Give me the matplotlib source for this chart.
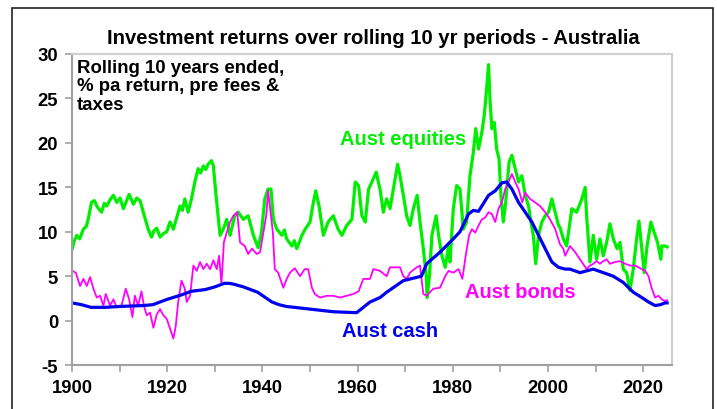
import matplotlib
matplotlib.use("Agg")
import matplotlib.pyplot as plt
from matplotlib.patches import Rectangle
from matplotlib.ticker import MultipleLocator, FuncFormatter

plt.rcParams['font.family'] = ['Liberation Sans', 'DejaVu Sans']
plt.rcParams['font.weight'] = 'bold'
plt.rcParams['axes.unicode_minus'] = False

# Rolling 10 yr returns, % pa
eq_years = [1900.0, 1900.5, 1901.0, 1901.6, 1902.4, 1903.0, 1903.4, 1904.1, 1904.7, 1905.3,
            1906.2, 1906.8, 1907.3, 1908.0, 1908.7, 1909.4, 1910.1, 1910.8, 1911.4, 1912.0,
            1912.9, 1913.6, 1914.3, 1915.0, 1915.5, 1916.0, 1916.7, 1917.2, 1917.8, 1918.5,
            1919.2, 1919.9, 1920.6, 1921.3, 1922.0, 1922.7, 1923.2, 1923.7, 1924.4, 1925.1,
            1925.8, 1926.5, 1927.0, 1927.6, 1928.1, 1928.6, 1929.3, 1929.7, 1930.2, 1930.7,
            1931.1, 1931.8, 1932.5, 1933.2, 1934.2, 1934.9, 1936.0, 1937.0, 1938.1, 1939.1,
            1939.8, 1940.5, 1941.2, 1941.8, 1942.3, 1943.0, 1944.1, 1944.6, 1945.1, 1946.2,
            1946.7, 1947.2, 1948.3, 1949.0, 1950.0, 1950.7, 1951.2, 1951.9, 1952.8, 1953.8,
            1954.9, 1955.9, 1956.7, 1957.7, 1958.8, 1959.5, 1960.2, 1960.9, 1961.6, 1962.3,
            1963.0, 1963.9, 1964.7, 1965.4, 1966.1, 1966.8, 1967.5, 1968.4, 1968.9, 1969.6,
            1970.3, 1971.0, 1971.7, 1972.5, 1973.1, 1973.8, 1974.4, 1974.6, 1975.1, 1975.6,
            1976.5, 1977.0, 1977.7, 1978.4, 1979.1, 1979.4, 1980.1, 1980.8, 1981.5, 1982.2,
            1982.9, 1983.6, 1984.3, 1984.8, 1985.4, 1986.1, 1986.6, 1987.1, 1987.5, 1987.8,
            1988.2, 1988.7, 1989.2, 1989.7, 1990.1, 1990.6, 1991.1, 1991.8, 1992.4, 1993.1,
            1993.8, 1994.5, 1995.2, 1995.9, 1996.4, 1996.9, 1997.4, 1998.0, 1998.7, 1999.4,
            2000.1, 2000.8, 2001.5, 2002.2, 2002.5, 2003.2, 2003.9, 2005.0, 2006.0, 2007.1,
            2007.8, 2008.1, 2008.8, 2009.5, 2010.2, 2010.9, 2011.6, 2012.3, 2013.0, 2013.7,
            2014.5, 2015.1, 2015.8, 2016.5, 2017.2, 2017.9, 2018.6, 2019.1, 2019.7, 2020.2,
            2020.8, 2021.6, 2022.3, 2023.0, 2023.7, 2023.9, 2024.6, 2025.0]
equities = [8.0, 9.0, 9.6, 9.2, 10.3, 10.6, 11.4, 13.3, 13.5, 12.8,
            12.2, 13.2, 12.9, 13.6, 14.1, 13.3, 13.8, 12.6, 13.4, 14.2,
            13.1, 13.8, 13.5, 12.2, 11.3, 10.3, 9.4, 10.1, 10.4, 9.4,
            9.8, 10.0, 11.1, 10.3, 11.6, 12.9, 12.4, 13.7, 12.2, 13.7,
            15.6, 17.1, 16.6, 17.4, 17.0, 17.6, 18.0, 17.4, 14.4, 11.8,
            9.6, 10.3, 11.4, 9.6, 11.8, 12.2, 11.4, 11.8, 9.6, 8.2,
            9.9, 13.7, 14.8, 14.8, 11.4, 10.3, 9.6, 10.2, 9.2, 8.4,
            9.0, 8.1, 9.6, 10.3, 11.1, 13.3, 14.6, 12.9, 9.6, 11.1,
            11.8, 10.3, 9.6, 10.7, 11.4, 15.6, 15.2, 11.8, 11.1, 14.8,
            15.6, 16.7, 14.8, 12.2, 13.7, 12.6, 14.8, 17.6, 16.3, 14.1,
            11.8, 10.7, 12.6, 14.1, 11.1, 8.1, 5.1, 2.6, 5.1, 9.6,
            11.8, 9.6, 7.3, 6.0, 8.4, 6.6, 12.6, 15.2, 14.8, 10.3,
            11.1, 16.3, 18.9, 21.6, 19.3, 21.2, 23.1, 26.1, 28.8, 24.9,
            21.6, 22.3, 19.3, 18.2, 14.1, 11.1, 13.3, 17.8, 18.6, 17.1,
            15.6, 16.3, 14.1, 12.9, 11.1, 9.6, 6.4, 9.6, 11.1, 11.8,
            12.2, 13.7, 12.2, 10.7, 10.5, 9.2, 8.4, 12.6, 12.2, 13.7,
            15.0, 11.8, 6.6, 9.6, 6.9, 9.2, 7.3, 8.8, 10.9, 9.2,
            8.1, 8.8, 5.8, 5.4, 3.4, 5.8, 9.2, 11.2, 8.1, 5.4,
            8.4, 11.1, 9.9, 8.8, 6.9, 8.4, 8.4, 8.3]

bd_years = [1900.1, 1900.8, 1901.7, 1902.4, 1903.1, 1903.8, 1904.5, 1905.2, 1905.9, 1906.6,
            1907.1, 1908.0, 1908.7, 1909.4, 1910.4, 1911.3, 1912.0, 1912.7, 1913.2, 1913.9,
            1914.6, 1915.1, 1915.7, 1916.4, 1917.1, 1917.8, 1918.5, 1919.2, 1919.9, 1920.6,
            1921.3, 1921.8, 1922.3, 1923.0, 1923.7, 1924.1, 1924.8, 1925.5, 1926.2, 1926.9,
            1927.6, 1928.3, 1929.0, 1929.7, 1930.4, 1930.9, 1931.4, 1931.9, 1932.5, 1933.2,
            1933.9, 1934.7, 1935.3, 1936.3, 1937.0, 1937.8, 1938.8, 1939.5, 1940.2, 1940.8,
            1941.2, 1942.2, 1942.6, 1943.3, 1944.4, 1945.1, 1945.8, 1946.8, 1947.9, 1948.9,
            1949.6, 1950.4, 1951.0, 1952.1, 1953.5, 1954.9, 1956.3, 1957.7, 1959.1, 1960.2,
            1961.2, 1962.6, 1963.3, 1964.7, 1966.1, 1966.8, 1968.9, 1969.6, 1970.3, 1971.0,
            1972.4, 1973.1, 1973.8, 1974.5, 1975.9, 1977.3, 1978.4, 1979.1, 1980.1, 1981.2,
            1982.0, 1982.7, 1983.4, 1984.0, 1984.7, 1985.4, 1986.1, 1986.8, 1987.5, 1988.2,
            1988.9, 1989.6, 1990.3, 1991.0, 1991.7, 1992.4, 1993.1, 1993.8, 1994.6, 1995.2,
            1996.2, 1997.3, 1998.3, 1999.4, 2000.4, 2001.5, 2002.5, 2003.2, 2003.6, 2004.6,
            2005.7, 2006.7, 2008.1, 2008.8, 2009.5, 2010.2, 2010.9, 2011.6, 2012.3, 2013.0,
            2014.1, 2015.1, 2016.2, 2017.2, 2018.3, 2019.7, 2020.4, 2021.1, 2021.8, 2022.5,
            2023.2, 2023.9, 2024.6, 2025.0]
bonds = [5.6, 5.4, 3.9, 4.7, 3.9, 4.9, 3.6, 2.6, 2.8, 1.7,
         3.0, 1.7, 2.4, 1.5, 1.7, 3.6, 2.4, 0.4, 2.8, 1.7,
         3.3, 1.7, 0.6, 0.9, -0.8, 0.7, 1.3, 0.6, 0.2, -0.9,
         -2.0, -0.6, 2.1, 4.5, 3.6, 2.1, 2.8, 6.2, 5.6, 6.6,
         5.8, 6.4, 5.8, 6.8, 5.8, 7.3, 4.1, 8.8, 9.9, 11.1,
         11.8, 12.2, 8.8, 8.4, 7.5, 8.1, 7.5, 7.7, 9.9, 11.8,
         14.6, 9.9, 5.8, 5.4, 3.7, 4.7, 5.4, 5.9, 5.0, 5.8,
         5.8, 3.7, 3.0, 2.6, 2.8, 2.8, 2.6, 2.8, 3.0, 3.3,
         4.7, 4.7, 5.8, 5.6, 5.0, 6.0, 6.0, 5.0, 4.7, 5.4,
         6.0, 6.2, 3.0, 2.8, 3.6, 3.7, 5.0, 5.6, 5.4, 5.8,
         4.7, 7.3, 9.6, 10.3, 9.9, 10.7, 11.4, 11.6, 12.2, 12.0,
         11.1, 12.6, 13.3, 14.8, 15.6, 16.5, 15.6, 14.8, 13.3, 14.4,
         13.7, 13.3, 12.9, 12.2, 11.4, 10.3, 8.6, 8.1, 7.3, 8.4,
         7.7, 6.9, 5.8, 6.2, 6.4, 6.7, 6.4, 6.7, 6.9, 6.4,
         6.6, 6.7, 6.4, 6.2, 6.2, 5.8, 5.6, 5.0, 3.6, 2.6,
         2.8, 2.4, 2.2, 2.3]

cash_years = [1900, 1902, 1904, 1907, 1910, 1915, 1917, 1920, 1923, 1925,
              1928, 1930, 1932, 1933, 1934, 1936, 1939, 1942, 1943.5, 1945,
              1950, 1955, 1959.8, 1960.5, 1962.6, 1964.7, 1966.1, 1969.6, 1973.4, 1974.5,
              1977.3, 1980.1, 1981.5, 1983.3, 1984.3, 1985.4, 1987.5, 1988.9, 1990.3, 1991.3,
              1992.4, 1993.8, 1995.2, 1996.6, 1998.0, 1999.4, 2000.8, 2002.2, 2003.6, 2004.6,
              2006.7, 2008.1, 2009.5, 2011.6, 2013.7, 2015.8, 2017.9, 2019.7, 2021.1, 2022.5,
              2023.6, 2024.6, 2025.0]
cash = [2.0, 1.8, 1.5, 1.5, 1.6, 1.7, 1.8, 2.4, 2.9, 3.3,
        3.5, 3.8, 4.2, 4.2, 4.1, 3.8, 3.2, 2.1, 1.8, 1.6,
        1.3, 1.0, 0.9, 1.2, 2.1, 2.6, 3.2, 4.5, 5.0, 6.4,
        7.7, 9.2, 10.0, 12.0, 12.4, 12.3, 14.1, 14.6, 15.5, 15.6,
        14.8, 13.3, 12.2, 11.1, 9.6, 8.1, 6.6, 6.0, 5.8, 5.8,
        5.4, 5.6, 5.8, 5.4, 5.0, 4.3, 3.2, 2.6, 2.1, 1.7,
        1.8, 2.0, 2.0]

fig = plt.figure(figsize=(7.17, 4.10), dpi=100)
ax = fig.add_axes([0.1004, 0.107, 0.8366, 0.759])

# outer border (bottom edge runs off the picture)
fig.patches.append(Rectangle((12 / 717, -0.05), 701 / 717, 1.05 - 9 / 410,
                             transform=fig.transFigure, fill=False,
                             ec='#222222', lw=1.2))

ax.plot(eq_years, equities, color='#00ee00', lw=2.3)
ax.plot(bd_years, bonds, color='#ff00ff', lw=1.3)
ax.plot(cash_years, cash, color='#0000ee', lw=2.3)

ax.set_xlim(1900, 2026)
ax.set_ylim(-5, 30)
ax.xaxis.set_major_locator(MultipleLocator(20))
ax.xaxis.set_minor_locator(MultipleLocator(10))
ax.yaxis.set_major_locator(MultipleLocator(5))
ax.xaxis.set_major_formatter(FuncFormatter(lambda v, p: f"{int(v)}"))

for s in ['left', 'bottom']:
    ax.spines[s].set_color('#a0a0a0')
    ax.spines[s].set_linewidth(1.5)
for s in ['top', 'right']:
    ax.spines[s].set_color('#d0d0d0')
    ax.spines[s].set_linewidth(1.5)

ax.tick_params(axis='both', which='both', direction='out', length=5,
               width=1.2, color='#a0a0a0', labelsize=13.3)
ax.tick_params(axis='x', pad=5)
ax.tick_params(axis='y', pad=5)
for lab in ax.get_xticklabels() + ax.get_yticklabels():
    lab.set_fontweight('bold')

fig.text(0.521, 0.907, "Investment returns over rolling 10 yr periods - Australia",
         ha='center', va='center', fontsize=14.6, fontweight='bold')
ax.text(0.008, 0.985, "Rolling 10 years ended,\n% pa return, pre fees &\ntaxes",
        transform=ax.transAxes, ha='left', va='top', fontsize=13.4,
        fontweight='bold', linespacing=1.12)

ax.text(1956.3, 19.9, "Aust equities", color='#00ee00', fontsize=14.5,
        fontweight='bold', va='baseline')
ax.text(1982.6, 2.65, "Aust bonds", color='#ff00ff', fontsize=14.5,
        fontweight='bold', va='baseline')
ax.text(1956.7, -1.7, "Aust cash", color='#0000ee', fontsize=14.5,
        fontweight='bold', va='baseline')

fig.savefig("out.png", dpi=100)
